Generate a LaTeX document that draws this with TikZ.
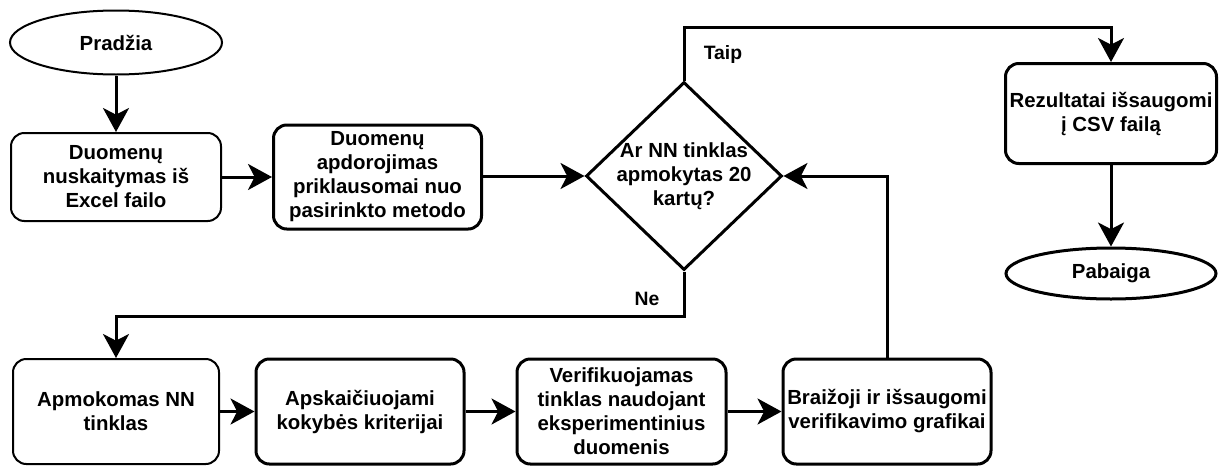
\documentclass[tikz,border=0pt]{standalone}
\usepackage{fontspec}
\setmainfont{Liberation Sans}
\usetikzlibrary{arrows.meta,shapes.geometric}

\begin{document}
\begin{tikzpicture}[x=0.75pt,y=-0.75pt,
  font=\bfseries\fontsize{15.3pt}{18pt}\selectfont,
  box/.style={draw, rounded corners=10pt, align=center, inner sep=0pt,
              line width=2.25pt, minimum height=78.75pt},
  thinbox/.style={box, line width=1.5pt},
  term/.style={draw, ellipse, inner sep=0pt, align=center},
  decision/.style={draw, diamond, inner sep=0pt, line width=2.25pt},
  flow/.style={line width=2.25pt, -{Stealth[length=18pt,width=19.5pt,inset=5pt]}},
  lbl/.style={inner sep=0pt, font=\bfseries\fontsize{14.5pt}{17pt}\selectfont}
]
\useasboundingbox (0,0) rectangle (1224,468);

% top row
\node[term, line width=1.5pt, minimum width=159pt, minimum height=48pt] (start) at (116,42.5) {Pradžia};
\node[thinbox, minimum width=157.5pt, minimum height=66pt] (read) at (116,177)
  {Duomenų\\nuskaitymas iš\\Excel failo};
\node[box, minimum width=156pt, minimum height=78pt] (proc) at (377.5,177)
  {Duomenų\\apdorojimas\\priklausomai nuo\\pasirinkto metodo};
\node[decision, minimum width=147pt, minimum height=141pt] (dec) at (684,176) {};
\node[align=center, inner sep=0pt] (dectext) at (684,176) {Ar NN tinklas\\apmokytas 20\\kartų?};

% right column
\node[box, minimum width=158.25pt, minimum height=75pt] (save) at (1111,113.5)
  {Rezultatai išsaugomi\\į CSV failą};
\node[term, line width=2.25pt, minimum width=157.5pt, minimum height=38.25pt] (end) at (1111,273.5) {Pabaiga};

% bottom row
\node[thinbox, minimum width=154.5pt] (train) at (116,411.5) {Apmokomas NN\\tinklas};
\node[box, minimum width=156pt] (calc) at (360,411.5) {Apskaičiuojami\\kokybės kriterijai};
\node[box, minimum width=156.75pt] (verif) at (621.5,411.5)
  {Verifikuojamas\\tinklas naudojant\\eksperimentinius\\duomenis};
\node[box, minimum width=156pt] (plot) at (887,411.5) {Braižoji ir išsaugomi\\verifikavimo grafikai};

% branch labels
\node[lbl] (yes) at (723,54) {Taip};
\node[lbl] (no) at (647,299) {Ne};

% connectors
\draw[flow] (start) -- (read);
\draw[flow] (read) -- (proc);
\draw[flow] (proc.east |- dec.west) -- (dec.west);
\draw[flow] (dec.north) -- ++(0,-53) -| (save.north);
\draw[flow] (save) -- (end);
\draw[flow] (dec.south) -- ++(0,45) -| (train.north);
\draw[flow] (train) -- (calc);
\draw[flow] (calc) -- (verif);
\draw[flow] (verif) -- (plot);
\draw[flow] (plot.north) |- (dec.east);
\end{tikzpicture}
\end{document}
